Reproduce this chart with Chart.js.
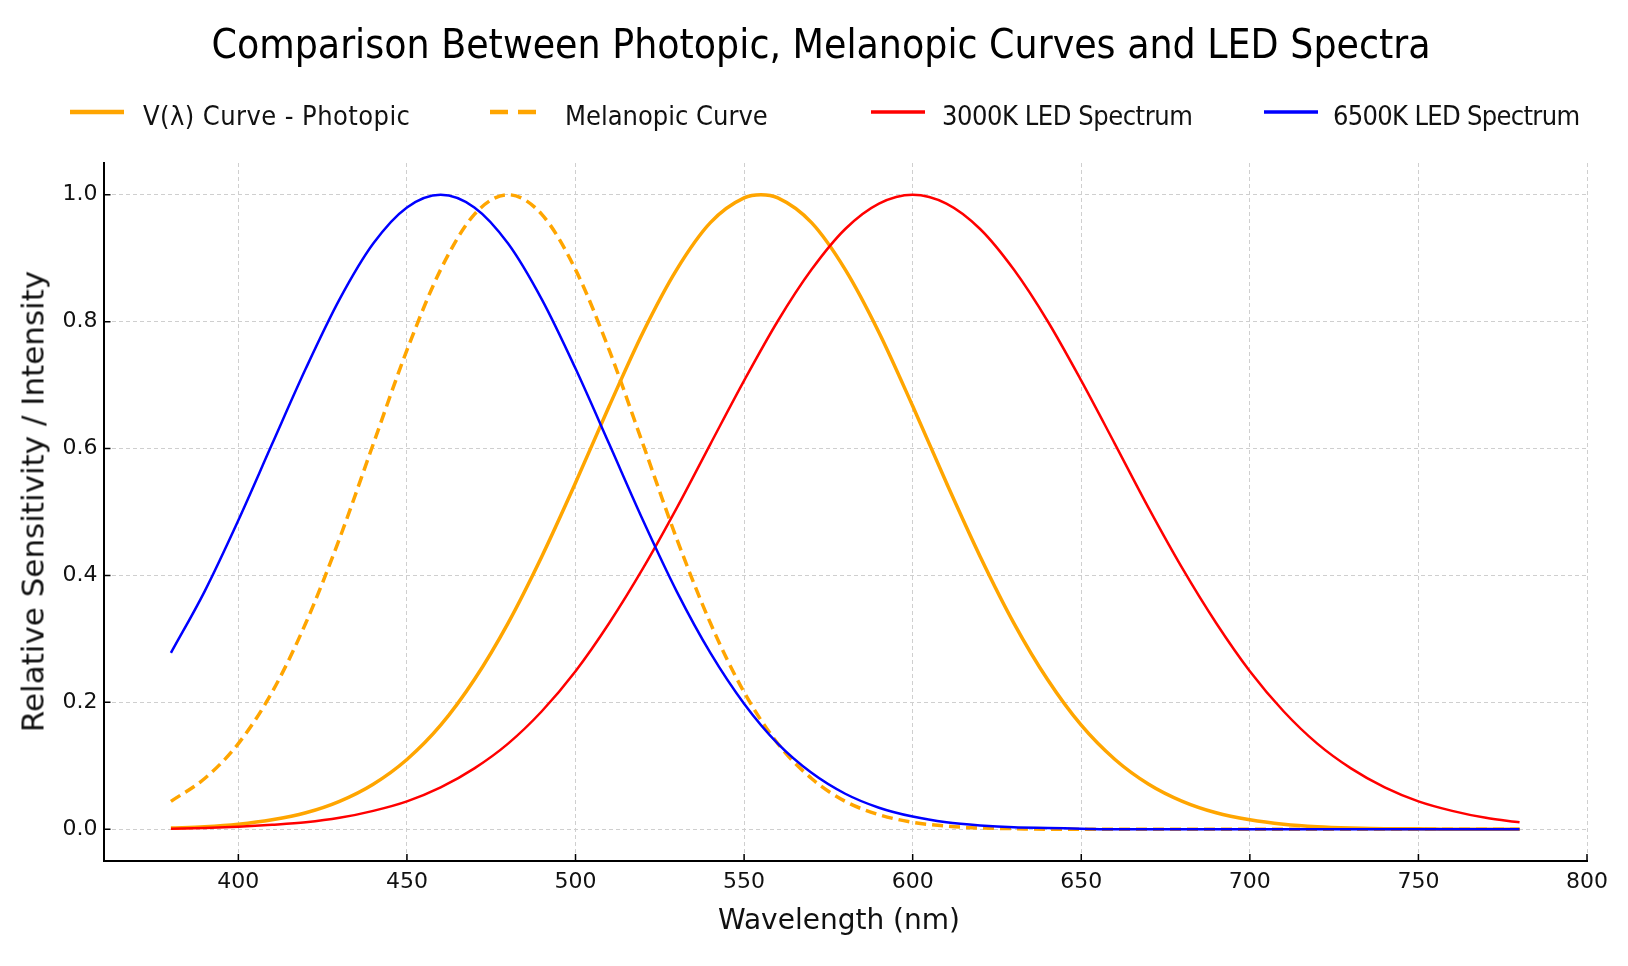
<!DOCTYPE html>
<html>
<head>
<meta charset="utf-8">
<title>Photopic, Melanopic and LED Spectra</title>
<script src="https://cdn.jsdelivr.net/npm/chart.js@4.4.1/dist/chart.umd.min.js"></script>
<style>
  body { margin: 0; background: #fff; }
  #wrap { position: relative; width: 1628px; height: 966px; font-family: "DejaVu Sans", sans-serif; color: #111; }
  #myChart { position: absolute; left: 0; top: 0; }
  #chartTitle {
    position: absolute; left: 14px; width: 1614px; top: 24px;
    text-align: center; font-family: "DejaVu Sans Condensed", "DejaVu Sans", sans-serif;
    font-stretch: condensed; font-size: 40.5px; line-height: 40px; color: #000; white-space: nowrap;
  }
  #yTitle {
    position: absolute; left: -267.5px; top: 486px; width: 600px; height: 31px;
    text-align: center; font-size: 31px; line-height: 31px; white-space: nowrap; color: #111;
    transform: rotate(-90deg);
  }
  #xTitle {
    position: absolute; left: 539px; top: 906px; width: 600px;
    text-align: center; font-size: 28px; line-height: 28px; white-space: nowrap; color: #111;
  }
  .legend-line { position: absolute; }
  .legend-text {
    position: absolute; font-family: "DejaVu Sans Condensed", "DejaVu Sans", sans-serif;
    font-stretch: condensed; font-size: 27px; line-height: 27px; white-space: nowrap; color: #111;
  }
</style>
</head>
<body>
<div id="wrap">
  <canvas id="myChart"></canvas>
  <div id="chartTitle">Comparison Between Photopic, Melanopic Curves and LED Spectra</div>
  <div id="yTitle">Relative Sensitivity / Intensity</div>
  <div id="xTitle">Wavelength (nm)</div>
  <div id="legend"></div>
</div>
<script>
// wavelengths (nm), 10 nm steps
const wavelengths = [380, 390, 400, 410, 420, 430, 440, 450, 460, 470, 480, 490, 500, 510, 520, 530, 540, 550, 560, 570,
  580, 590, 600, 610, 620, 630, 640, 650, 660, 670, 680, 690, 700, 710, 720, 730, 740, 750, 760, 770, 780];

// photopic curve has an extra point at its 555 nm peak
const photopicWavelengths = [380, 390, 400, 410, 420, 430, 440, 450, 460, 470, 480, 490, 500, 510, 520, 530, 540, 550, 555, 560,
  570, 580, 590, 600, 610, 620, 630, 640, 650, 660, 670, 680, 690, 700, 710, 720, 730, 740, 750, 760, 770, 780];
const photopic = [0.002, 0.004, 0.008, 0.015, 0.026, 0.044, 0.071, 0.110, 0.164, 0.236, 0.325, 0.430, 0.546, 0.667, 0.783, 0.882, 0.956, 0.995, 1.000, 0.995,
  0.956, 0.882, 0.783, 0.667, 0.546, 0.430, 0.325, 0.236, 0.164, 0.110, 0.071, 0.044, 0.026, 0.015, 0.008, 0.004, 0.002, 0.001, 0.001, 0.000, 0.000, 0.000];

const melanopic = [0.044, 0.080, 0.135, 0.216, 0.325, 0.458, 0.607, 0.755, 0.882, 0.969, 1.000, 0.969, 0.882, 0.755, 0.607, 0.458, 0.325, 0.216, 0.135, 0.080,
  0.044, 0.023, 0.011, 0.005, 0.002, 0.001, 0, 0, 0, 0, 0, 0, 0, 0, 0, 0, 0, 0, 0, 0, 0];

const led3000K = [0.001, 0.002, 0.004, 0.007, 0.011, 0.018, 0.029, 0.044, 0.066, 0.096, 0.135, 0.186, 0.249, 0.325, 0.411, 0.506, 0.607, 0.707, 0.801, 0.882,
  0.946, 0.986, 1.000, 0.986, 0.946, 0.882, 0.801, 0.707, 0.607, 0.506, 0.411, 0.325, 0.249, 0.186, 0.135, 0.096, 0.066, 0.044, 0.029, 0.018, 0.011];

const led6500K = [0.278, 0.375, 0.487, 0.607, 0.726, 0.835, 0.923, 0.980, 1.000, 0.980, 0.923, 0.835, 0.726, 0.607, 0.487, 0.375, 0.278, 0.198, 0.135, 0.089,
  0.056, 0.034, 0.020, 0.011, 0.006, 0.003, 0.002, 0.001, 0, 0, 0, 0, 0, 0, 0, 0, 0, 0, 0, 0, 0];

const seriesLabels = ["V(λ) Curve - Photopic", "Melanopic Curve", "3000K LED Spectrum", "6500K LED Spectrum"];
const seriesColors = ["#FFA500", "#FFA500", "#FF0000", "#0000FF"];

const xTicks = [400, 450, 500, 550, 600, 650, 700, 750, 800];
const yTicks = [0.0, 0.2, 0.4, 0.6, 0.8, 1.0];

function toPoints(xs, ys) {
  return xs.map((x, i) => ({ x: x, y: ys[i] }));
}

// html legend, laid out in one row like the original
const legendSpots = [
  { line: 70, text: 143, width: 4.5, dash: "", spacing: 0.43 },
  { line: 490, text: 565, width: 4.5, dash: "18 10", spacing: 0 },
  { line: 871, text: 942, width: 3.5, dash: "", spacing: -0.45 },
  { line: 1264, text: 1333, width: 3.5, dash: "", spacing: -0.67 },
];
const legendBox = document.getElementById("legend");
seriesLabels.forEach((label, i) => {
  const spot = legendSpots[i];
  legendBox.innerHTML += `
    <svg class="legend-line" style="left:${spot.line}px; top:106px" width="56" height="12">
      <line x1="0" y1="6" x2="54" y2="6" stroke="${seriesColors[i]}" stroke-width="${spot.width}"
        ${spot.dash ? `stroke-dasharray="${spot.dash}"` : ""}/>
    </svg>
    <span class="legend-text" style="left:${spot.text}px; top:102px; letter-spacing:${spot.spacing}px">${label}</span>`;
});

// matplotlib style ticks pointing into the plot
const inwardTicks = {
  id: "inwardTicks",
  afterDraw(chart) {
    const { ctx, chartArea, scales } = chart;
    ctx.save();
    ctx.strokeStyle = "#000";
    ctx.lineWidth = 1.5;
    ctx.beginPath();
    for (const v of xTicks) {
      const px = scales.x.getPixelForValue(v);
      ctx.moveTo(px, chartArea.bottom);
      ctx.lineTo(px, chartArea.bottom - 7);
    }
    for (const v of yTicks) {
      const py = scales.y.getPixelForValue(v);
      ctx.moveTo(chartArea.left, py);
      ctx.lineTo(chartArea.left + 7, py);
    }
    ctx.stroke();
    ctx.restore();
  },
};

Chart.defaults.font.family = "'DejaVu Sans', sans-serif";
Chart.defaults.color = "#000";

const ctx = document.getElementById("myChart").getContext("2d");
const myChart = new Chart(ctx, {
  type: "line",
  data: {
    datasets: [
      {
        label: seriesLabels[0],
        data: toPoints(photopicWavelengths, photopic),
        borderColor: seriesColors[0],
        borderWidth: 3.5,
        order: 3,
      },
      {
        label: seriesLabels[1],
        data: toPoints(wavelengths, melanopic),
        borderColor: seriesColors[1],
        borderWidth: 3.5,
        borderDash: [11, 6],
        order: 2,
      },
      {
        label: seriesLabels[2],
        data: toPoints(wavelengths, led3000K),
        borderColor: seriesColors[2],
        borderWidth: 2.5,
        order: 1,
      },
      {
        label: seriesLabels[3],
        data: toPoints(wavelengths, led6500K),
        borderColor: seriesColors[3],
        borderWidth: 2.5,
        order: 0,
      },
    ],
  },
  options: {
    responsive: true,
    maintainAspectRatio: false,
    animation: false,
    cubicInterpolationMode: "monotone",
    elements: { point: { radius: 0 } },
    layout: { padding: { top: 163, right: 41, bottom: 0, left: 0 } },
    plugins: {
      legend: { display: false },
      title: { display: false },
      tooltip: { enabled: false },
    },
    scales: {
      x: {
        type: "linear",
        min: 360,
        max: 800,
        afterFit: (scale) => { scale.height = 105; },
        afterBuildTicks: (axis) => { axis.ticks = xTicks.map((v) => ({ value: v })); },
        grid: { color: "#cfcfcf", lineWidth: 1, drawTicks: false },
        border: { display: true, color: "#000", width: 2, dash: [4, 3] },
        ticks: { font: { size: 22 }, color: "#111", padding: 8, maxRotation: 0, autoSkip: false, callback: (v) => String(v) },
        title: { display: false },
      },
      y: {
        type: "linear",
        min: -0.05,
        max: 1.05,
        afterFit: (scale) => { scale.width = 103.5; },
        afterBuildTicks: (axis) => { axis.ticks = yTicks.map((v) => ({ value: v })); },
        grid: { color: "#cfcfcf", lineWidth: 1, drawTicks: false },
        border: { display: true, color: "#000", width: 2, dash: [4, 3] },
        ticks: { font: { size: 22 }, color: "#111", padding: 6, autoSkip: false, callback: (v) => v.toFixed(1) },
        title: { display: false },
      },
    },
  },
  plugins: [inwardTicks],
});
</script>
</body>
</html>
